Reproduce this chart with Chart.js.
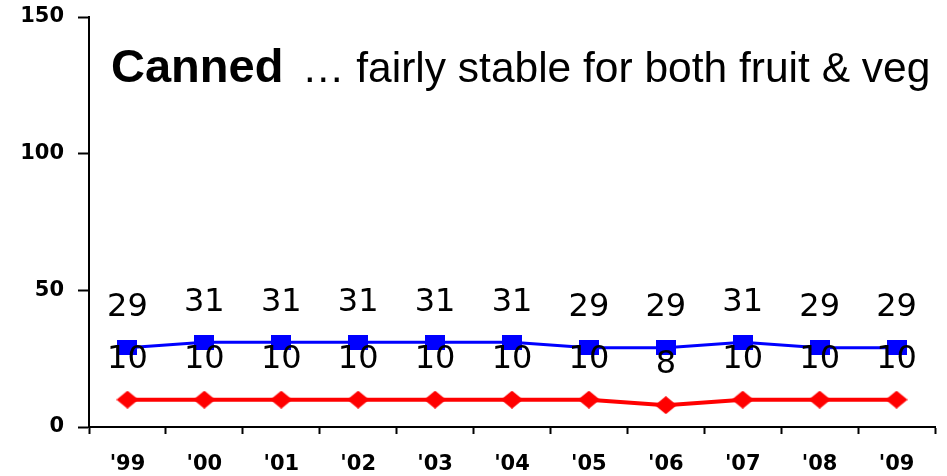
<!DOCTYPE html>
<html>
<head>
<meta charset="utf-8">
<script src="https://cdn.jsdelivr.net/npm/chart.js@4/dist/chart.umd.min.js"></script>
<style>
  html, body { margin: 0; padding: 0; background: #fff; }
  #wrap { width: 947px; height: 476px; }
</style>
</head>
<body>
<div id="wrap"><canvas id="chart" width="947" height="476"></canvas></div>
<script>
// years on the category axis
const years = ["'99", "'00", "'01", "'02", "'03", "'04", "'05", "'06", "'07", "'08", "'09"];
// canned vegetables (blue) and canned fruit (red)
const vegValues = [29, 31, 31, 31, 31, 31, 29, 29, 31, 29, 29];
const fruitValues = [10, 10, 10, 10, 10, 10, 10, 8, 10, 10, 10];
const yTicks = [0, 50, 100, 150];

// marker shapes drawn onto small canvases
function squareMarker(color, w, h) {
    const c = document.createElement('canvas');
    c.width = w; c.height = h;
    const g = c.getContext('2d');
    g.fillStyle = color;
    g.fillRect(0, 0, w, h);
    return c;
}
function diamondMarker(color, w, h) {
    const c = document.createElement('canvas');
    c.width = w; c.height = h;
    const g = c.getContext('2d');
    g.fillStyle = color;
    g.beginPath();
    g.moveTo(w / 2, 0);
    g.lineTo(w, h / 2);
    g.lineTo(w / 2, h);
    g.lineTo(0, h / 2);
    g.closePath();
    g.fill();
    return c;
}

// headline + value labels above every point
const annotate = {
    id: 'annotate',
    afterDatasetsDraw(chart) {
        const ctx = chart.ctx;
        ctx.save();
        ctx.fillStyle = '#000';
        ctx.textBaseline = 'alphabetic';
        ctx.textAlign = 'left';
        ctx.font = 'bold 47px "Liberation Sans", Arial, sans-serif';
        ctx.fillText('Canned', 111, 82);
        ctx.font = '42.5px "Liberation Sans", Arial, sans-serif';
        ctx.fillText('\u2026 fairly stable for both fruit & veg', 302, 82);

        ctx.font = '32px "DejaVu Sans", Verdana, sans-serif';
        ctx.textAlign = 'center';
        ctx.textBaseline = 'middle';
        chart.data.datasets.forEach((ds, i) => {
            chart.getDatasetMeta(i).data.forEach((pt, j) => {
                ctx.fillText(String(ds.data[j]), pt.x, pt.y - 40);
            });
        });
        ctx.restore();
    }
};

const tickFont = { family: '"DejaVu Sans", Verdana, sans-serif', size: 21, weight: 'bold' };

new Chart(document.getElementById('chart'), {
    type: 'line',
    data: {
        labels: years,
        datasets: [{
            data: vegValues,
            borderColor: '#0000ff',
            borderWidth: 3,
            pointStyle: squareMarker('#0000ff', 20, 15),
            tension: 0,
            fill: false
        }, {
            data: fruitValues,
            borderColor: '#ff0000',
            borderWidth: 4,
            pointStyle: diamondMarker('#ff0000', 22, 18),
            tension: 0,
            fill: false
        }]
    },
    options: {
        responsive: false,
        animation: false,
        layout: { padding: { top: 17, right: 12, left: 0, bottom: 0 } },
        plugins: {
            legend: { display: false },
            tooltip: { enabled: false }
        },
        scales: {
            x: {
                offset: true,
                grid: { offset: true, drawOnChartArea: false, tickLength: 7, color: '#000', tickWidth: 2 },
                border: { color: '#000', width: 2 },
                ticks: { color: '#000', padding: 18, font: tickFont },
                afterFit(scale) { scale.height = 49; }
            },
            y: {
                min: 0,
                max: 150,
                afterBuildTicks(scale) { scale.ticks = yTicks.map(v => ({ value: v })); },
                grid: { drawOnChartArea: false, tickLength: 11, color: '#000', tickWidth: 2 },
                border: { color: '#000', width: 2 },
                ticks: { color: '#000', padding: 14, font: tickFont },
                afterFit(scale) {
                    scale.width = 89;
                    scale.paddingTop = 0;
                    scale.paddingBottom = 0;
                }
            }
        }
    },
    plugins: [annotate]
});
</script>
</body>
</html>
